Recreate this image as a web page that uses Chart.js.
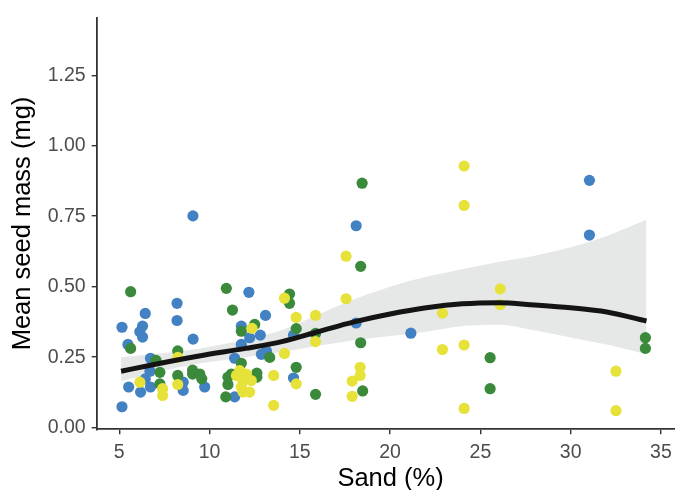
<!DOCTYPE html>
<html>
<head>
<meta charset="utf-8">
<script src="https://cdn.jsdelivr.net/npm/chart.js@4.4.1/dist/chart.umd.min.js"></script>
<style>
  html, body { margin: 0; padding: 0; background: #ffffff; overflow: hidden; }
  #wrap { width: 675px; height: 490px; position: relative; overflow: hidden; }
  #c { position: absolute; left: 0; top: 0; }
</style>
</head>
<body>
<div id="wrap"><canvas id="c" width="690" height="490"></canvas></div>
<script>
// ---- data ----
const blueX = [5.15, 5.15, 5.48, 5.52, 6.14, 6.29, 6.29, 6.44, 6.18, 6.44, 6.7, 6.73, 6.73, 8.2, 8.2, 8.54, 8.54, 9.09, 9.73, 9.08, 11.39, 11.39, 11.76, 11.76, 12.18, 12.22, 12.81, 12.87, 13.15, 13.1, 14.65, 14.65, 18.12, 18.12, 21.15, 31.04, 31.04];
const blueY = [0.356, 0.074, 0.295, 0.144, 0.34, 0.36, 0.321, 0.405, 0.126, 0.173, 0.2, 0.246, 0.144, 0.441, 0.38, 0.161, 0.132, 0.314, 0.144, 0.751, 0.109, 0.246, 0.36, 0.295, 0.48, 0.319, 0.328, 0.26, 0.272, 0.398, 0.328, 0.176, 0.716, 0.371, 0.335, 0.877, 0.683];

const greenX = [5.63, 5.63, 7.03, 7.25, 7.25, 8.24, 8.24, 9.06, 9.06, 9.46, 9.57, 10.93, 11.27, 11.02, 11.02, 11.21, 10.9, 11.76, 11.76, 12.5, 12.62, 12.62, 13.33, 14.43, 14.43, 14.8, 14.8, 15.87, 15.87, 18.45, 18.37, 18.37, 18.48, 25.54, 25.54, 34.14, 34.14];
const greenY = [0.482, 0.281, 0.239, 0.196, 0.155, 0.272, 0.185, 0.204, 0.19, 0.19, 0.173, 0.494, 0.417, 0.179, 0.153, 0.19, 0.109, 0.342, 0.228, 0.366, 0.193, 0.179, 0.249, 0.474, 0.441, 0.351, 0.214, 0.334, 0.118, 0.867, 0.572, 0.301, 0.13, 0.248, 0.138, 0.319, 0.281];

const yellowX = [6.14, 7.4, 7.4, 8.24, 8.24, 11.67, 11.49, 12.04, 11.85, 12.31, 11.76, 12.22, 11.85, 12.35, 13.55, 13.55, 14.15, 14.15, 14.8, 14.8, 15.87, 15.87, 17.56, 17.56, 18.34, 18.34, 17.9, 17.9, 22.9, 22.9, 24.1, 24.1, 24.1, 24.1, 26.1, 26.1, 32.51, 32.51];
const yellowY = [0.161, 0.138, 0.114, 0.249, 0.153, 0.202, 0.185, 0.19, 0.167, 0.167, 0.144, 0.126, 0.126, 0.352, 0.185, 0.079, 0.459, 0.263, 0.391, 0.155, 0.398, 0.305, 0.608, 0.457, 0.214, 0.185, 0.165, 0.111, 0.406, 0.277, 0.928, 0.788, 0.293, 0.068, 0.492, 0.436, 0.2, 0.06];

// smoothed fit and its confidence band
const fitX  = [5.1, 7, 9.5, 12, 14, 16, 18, 20, 22, 24, 26, 28, 30, 32, 34.2];
const fitY  = [0.200, 0.225, 0.255, 0.281, 0.305, 0.340, 0.375, 0.403, 0.425, 0.439, 0.443, 0.435, 0.425, 0.410, 0.378];
const fitHi = [0.250, 0.262, 0.281, 0.313, 0.345, 0.400, 0.455, 0.500, 0.535, 0.562, 0.587, 0.610, 0.640, 0.680, 0.737];
const fitLo = [0.165, 0.195, 0.228, 0.250, 0.268, 0.290, 0.310, 0.325, 0.340, 0.360, 0.365, 0.345, 0.320, 0.295, 0.260];

const xTicks = [5, 10, 15, 20, 25, 30, 35];
const yTicks = [0, 0.25, 0.5, 0.75, 1.0, 1.25];

// ---- build chart ----
const zip = (xs, ys) => xs.map((x, i) => ({ x: x, y: ys[i] }));
const FONT = "'Liberation Sans', Arial, Helvetica, sans-serif";

function pts(label, xs, ys, color, order) {
  return {
    type: 'scatter', label: label, data: zip(xs, ys),
    backgroundColor: color, borderColor: color, borderWidth: 0,
    pointRadius: 5.6, pointHoverRadius: 5.6, order: order
  };
}

new Chart(document.getElementById('c'), {
  type: 'scatter',
  data: {
    datasets: [
      { type: 'line', label: 'fit', data: zip(fitX, fitY), borderColor: '#141414', borderWidth: 5,
        pointRadius: 0, fill: false, cubicInterpolationMode: 'monotone', order: 0, borderCapStyle: 'butt' },
      pts('yellow', yellowX, yellowY, '#E6E23A', 1),
      pts('green', greenX, greenY, '#3B8A3C', 2),
      pts('blue', blueX, blueY, '#4281C2', 3),
      { type: 'line', label: 'hi', data: zip(fitX, fitHi), borderWidth: 0, borderColor: 'rgba(0,0,0,0)',
        backgroundColor: '#E6E7E7', pointRadius: 0, fill: '+1', cubicInterpolationMode: 'monotone', order: 4 },
      { type: 'line', label: 'lo', data: zip(fitX, fitLo), borderWidth: 0, borderColor: 'rgba(0,0,0,0)',
        pointRadius: 0, fill: false, cubicInterpolationMode: 'monotone', order: 5 }
    ]
  },
  options: {
    responsive: false,
    animation: false,
    events: [],
    layout: { padding: { top: 12.7, right: 4, left: 0, bottom: 0 } },
    plugins: { legend: { display: false }, tooltip: { enabled: false } },
    scales: {
      x: {
        type: 'linear', min: 3.75, max: 36.3,
        afterBuildTicks: s => { s.ticks = xTicks.map(v => ({ value: v })); },
        afterFit: s => { s.height = 60.7; },
        grid: { display: true, drawOnChartArea: false, drawTicks: true, tickLength: 5, color: '#333333', lineWidth: 1.4 },
        border: { display: true, color: '#333333', width: 1.8 },
        ticks: { color: '#4D4D4D', font: { family: FONT, size: 19.5 }, padding: 7, maxRotation: 0,
                 callback: v => String(v) },
        title: { display: true, text: 'Sand (%)', color: '#000000', font: { family: FONT, size: 25.5 },
                 padding: { top: 0, bottom: -4 } }
      },
      y: {
        type: 'linear', min: -0.006, max: 1.454,
        afterBuildTicks: s => { s.ticks = yTicks.map(v => ({ value: v })); },
        afterFit: s => { s.width = 96.7; },
        grid: { display: true, drawOnChartArea: false, drawTicks: true, tickLength: 5, color: '#333333', lineWidth: 1.4 },
        border: { display: true, color: '#333333', width: 1.8 },
        ticks: { color: '#4D4D4D', font: { family: FONT, size: 19.5 }, padding: 6,
                 callback: v => Number(v).toFixed(2) },
        title: { display: true, text: 'Mean seed mass (mg)', color: '#000000', font: { family: FONT, size: 25.5 },
                 padding: { top: 8, bottom: 0 } }
      }
    }
  }
});
</script>
</body>
</html>
